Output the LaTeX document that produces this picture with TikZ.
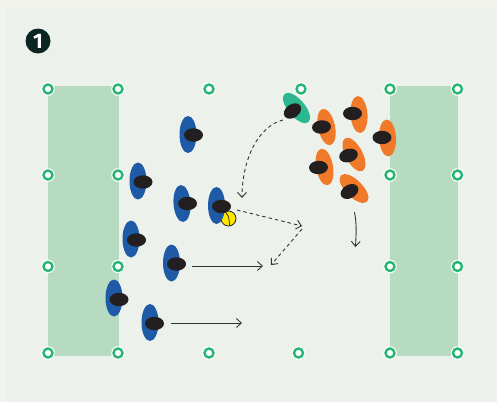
\documentclass[tikz,border=0pt]{standalone}
\usepackage{fontspec}
\setsansfont{Fira Sans}
\usetikzlibrary{arrows.meta}
\definecolor{bgout}{HTML}{F3F3EE}
\definecolor{field}{HTML}{ECF2EB}
\definecolor{zone}{HTML}{B7DBC0}
\definecolor{conegreen}{HTML}{27B573}
\definecolor{pblue}{HTML}{1F5AA6}
\definecolor{porange}{HTML}{F07A2A}
\definecolor{pteal}{HTML}{2BB890}
\definecolor{headc}{HTML}{231F20}
\definecolor{badgec}{HTML}{0B2522}
\definecolor{ink}{HTML}{333333}
\definecolor{ballc}{HTML}{FFE600}
\newcommand{\plr}[7]{%
  \fill[#1, rotate around={#4:(#2,#3)}] (#2,#3) ellipse [x radius=8.5, y radius=18.5];
  \fill[headc, rotate around={#7:(#5,#6)}] (#5,#6) ellipse [x radius=9.5, y radius=6.7];
}
\tikzset{
  conemark/.style={circle, draw=conegreen, line width=2.4pt, fill=white, minimum size=9pt, inner sep=0pt},
  conehalo/.style={circle, fill=white, minimum size=13.5pt, inner sep=0pt},
  movearrow/.style={draw=ink, line width=0.9pt, -{Straight Barb[length=5pt,width=9pt]}},
  passarrow/.style={movearrow, dash pattern=on 3.5pt off 3pt},
  badge/.style={circle, fill=badgec, minimum size=25pt, inner sep=0pt, text=white, font=\sffamily\bfseries\fontsize{21}{21}\selectfont}
}
\begin{document}
\begin{tikzpicture}[x=1pt,y=-1pt]
\useasboundingbox (0,0) rectangle (497,402);
\fill[bgout] (0,0) rectangle (497,402);
\fill[field] (6,9) rectangle (497,402);
% zones
\fill[zone] (48,86) rectangle (119,355.5);
\fill[zone] (390,86) rectangle (458,355.5);
% cones
\foreach \cx/\cy [count=\i] in {48/89,118/89,209/89,301/89,390/89,457.5/89,
  48/175,118/175,390/175,457.5/175,
  48/266.5,118/266.5,390/266.5,457.5/266.5,
  48/353,118/353,209/353,298.5/353,390/353,457.5/353}{
  \node[conehalo] at (\cx,\cy) {};
  \node[conemark] (cone\i) at (\cx,\cy) {};
}
% badge
\node[badge] (badge) at (38,41) {1};
% ball (behind head)
\node[circle, fill=ballc, draw=headc, line width=0.8pt, minimum size=15pt, inner sep=0pt] (ball) at (228.5,218.5) {};
\draw[headc, line width=0.7pt] (225.5,212) .. controls (229,217) .. (229.5,225);
% blue players
\plr{pblue}{188}{134.5}{0}{193.5}{135}{0}
\plr{pblue}{138}{181}{0}{143}{182}{0}
\plr{pblue}{182}{203.5}{4}{187.5}{203.5}{0}
\fill[pblue] (216.5,205.5) ellipse [x radius=8.5, y radius=18.5];
\fill[headc] (221.5,206.5) ellipse [x radius=9.5, y radius=6.7];
\plr{pblue}{131}{239}{0}{136.5}{240}{0}
\plr{pblue}{171.5}{263}{0}{176.5}{264}{0}
\plr{pblue}{114}{298}{0}{119}{299.5}{0}
\plr{pblue}{150}{322.5}{0}{154.5}{323.5}{0}
% teal player
\plr{pteal}{296.5}{108}{40}{292.5}{111}{35}
% orange players
\plr{porange}{326.5}{127}{12}{321.5}{127}{5}
\plr{porange}{359}{114.5}{4}{352.5}{113.5}{0}
\plr{porange}{387.5}{138}{3}{382}{137.5}{0}
\plr{porange}{354}{154.5}{28}{348.5}{155.5}{15}
\plr{porange}{324.5}{167}{10}{318.5}{167.5}{3}
\plr{porange}{354}{188.5}{45}{349.5}{191.5}{30}
% arrow end points
\coordinate (a1s) at (283,120);
\coordinate (a1e) at (242,198);
\coordinate (a2s) at (237,210);
\coordinate (a2e) at (302,226);
\coordinate (a3s) at (302,229);
\coordinate (a3e) at (271,265);
\coordinate (a4s) at (192,266);
\coordinate (a4e) at (263,266);
\coordinate (a5s) at (171,323);
\coordinate (a5e) at (242,323);
\coordinate (a6s) at (354.5,212);
\coordinate (a6e) at (355.5,247);
% arrows
\draw[passarrow] (a1s) .. controls (258,126) and (242,160) .. (a1e);
\draw[passarrow] (a2s) -- (a2e);
\draw[passarrow] (a3s) -- (a3e);
\draw[movearrow] (a4s) -- (a4e);
\draw[movearrow] (a5s) -- (a5e);
\draw[movearrow] (a6s) .. controls (357,225) and (356,236) .. (a6e);
\end{tikzpicture}
\end{document}
